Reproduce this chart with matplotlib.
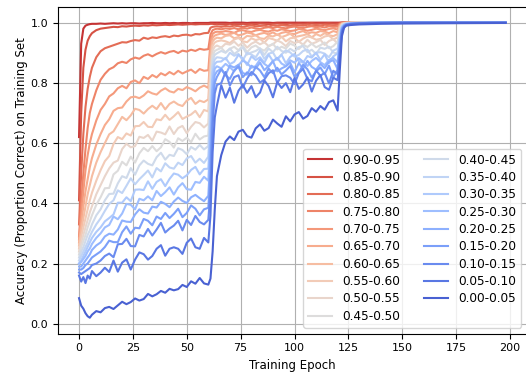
import numpy as np
import matplotlib
matplotlib.use("Agg")
import matplotlib.pyplot as plt

# epochs at which accuracy was logged
EPOCHS = ([0, 1, 2, 3, 4, 5, 6] + list(range(8, 59, 2)) + [60, 61, 62, 63, 64]
          + list(range(66, 121, 2))
          + [121, 122, 123, 124, 126, 130, 135, 140, 150, 170, 198])

BINS = ["0.00-0.05", "0.05-0.10", "0.10-0.15", "0.15-0.20", "0.20-0.25",
        "0.25-0.30", "0.30-0.35", "0.35-0.40", "0.40-0.45", "0.45-0.50",
        "0.50-0.55", "0.55-0.60", "0.60-0.65", "0.65-0.70", "0.70-0.75",
        "0.75-0.80", "0.80-0.85", "0.85-0.90", "0.90-0.95"]

# training accuracy per bin, in percent
acc_90_95 = [62, 93, 98, 99, 99.3, 99.5, 99.6, 99.6, 99.7, 99.6, 99.7, 99.8, 99.7, 99.8, 99.7, 99.8, 99.8, 99.7, 99.8, 99.8, 99.9, 99.8, 99.8, 99.9, 99.8, 99.9, 99.8, 99.9, 99.9, 99.8, 99.9, 99.9, 99.9,
             99.9, 100, 100, 100, 100,
             100, 100, 99.9, 100, 100, 100, 99.9, 100, 100, 100, 100, 100, 99.9, 100, 100, 100, 100, 100, 100, 100, 100, 100, 100, 100, 100, 100, 100, 100,
             100, 100, 100, 100, 100, 100, 100, 100, 100, 100, 100]
acc_85_90 = [41, 70, 85, 91, 94, 95.5, 96.5, 97.5, 98, 98.2, 98.4, 98.6, 98.5, 98.8, 98.7, 98.9, 99, 98.9, 99.1, 99, 99.2, 99.1, 99.2, 99.3, 99.2, 99.3, 99.4, 99.3, 99.4, 99.5, 99.4, 99.5, 99.5,
             99.5, 99.6, 99.6, 99.5, 99.6,
             99.4, 99.5, 99.6, 99.5, 99.4, 99.6, 99.5, 99.6, 99.5, 99.7, 99.6, 99.5, 99.6, 99.7, 99.6, 99.5, 99.7, 99.6, 99.7, 99.6, 99.7, 99.8, 99.6, 99.7, 99.7, 99.8, 99.7, 99.7,
             99.9, 100, 100, 100, 100, 100, 100, 100, 100, 100, 100]
acc_80_85 = [33, 50, 63, 72, 78, 82, 85, 88.5, 90.5, 91.5, 92, 92.5, 93, 93.5, 93.4, 93.9, 94.2, 94.0, 95, 94.6, 95.1, 94.9, 95.3, 95.5, 95.2, 95.7, 95.5, 95.9, 96, 95.7, 96.2, 96.1, 96.5,
             96.6, 98.3, 98.6, 98.7, 98.8,
             98.6, 98.9, 98.7, 99.0, 98.8, 98.6, 98.9, 99.1, 98.8, 98.9, 99.0, 98.7, 99.1, 98.9, 99.2, 99.0, 98.9, 99.2, 99.1, 99.0, 99.3, 99.1, 99.2, 99.0, 99.3, 99.2, 99.1, 99.3,
             99.7, 99.9, 100, 100, 100, 100, 100, 100, 100, 100, 100]
acc_75_80 = [29, 40, 50, 58, 65, 70, 73, 77.5, 81, 83, 84.5, 85.2, 86.5, 87, 86.6, 87.8, 88.4, 88, 89, 89.5, 88.8, 89.6, 90.2, 89.7, 90.3, 90.6, 89.9, 90.7, 90.4, 91, 90.6, 91.3, 91,
             91.2, 96, 97.5, 97.8, 98,
             97.8, 98.1, 97.9, 98.2, 97.8, 98.3, 98, 98.4, 98.1, 97.9, 98.3, 98.5, 98.2, 98.6, 98.3, 98.1, 98.5, 98.7, 98.4, 98.2, 98.6, 98.8, 98.5, 98.7, 98.4, 98.8, 98.6, 98.7,
             99.5, 99.9, 100, 100, 100, 100, 100, 100, 100, 100, 100]
acc_70_75 = [28, 36, 44, 51, 56, 60, 63, 67.5, 71, 73, 75.5, 76.5, 78.2, 79, 78.2, 80.3, 80.8, 79.9, 82, 81.3, 82.6, 81.8, 83.2, 82.5, 83.6, 82.8, 84, 83.1, 83.8, 84.4, 83.3, 84.6, 84,
             84.2, 93.5, 96.3, 96.8, 97,
             96.9, 97.2, 97.0, 96.6, 97.3, 97.5, 97.1, 96.9, 97.4, 97.6, 97.2, 97.0, 97.6, 97.3, 97.8, 97.5, 97.2, 97.4, 97.9, 97.7, 97.3, 97.6, 98.0, 97.8, 97.5, 97.9, 98.1, 97.7,
             99.3, 99.8, 99.9, 100, 100, 100, 100, 100, 100, 100, 100]
acc_65_70 = [27, 33, 39, 44, 48, 52, 55, 59.5, 63, 66, 67.9, 70.7, 71.6, 71.8, 73.8, 75.2, 75.4, 74.9, 75.8, 77.2, 76.5, 76.1, 77.4, 78.2, 77.2, 76.8, 78.0, 77.6, 78.6, 78.0, 77.2, 78.4, 79.1,
             78.3, 90.5, 95, 95.7, 96,
             96.4, 95.9, 96.2, 96.6, 95.8, 96.1, 96.7, 96.4, 95.8, 96.3, 96.6, 96.1, 96.8, 95.9, 96.6, 96.9, 96.4, 96.2, 96.8, 97.2, 96.4, 96.8, 96.6, 97.2, 97.0, 96.5, 97.2, 96.8,
             99, 99.7, 99.9, 99.9, 100, 100, 100, 100, 100, 100, 100]
acc_60_65 = [26, 31, 35, 39, 43, 46, 49, 53.5, 57, 60, 62.9, 63.9, 66.3, 68.7, 67.6, 69.2, 71.4, 71.0, 69.8, 71.3, 72.4, 71.3, 73.3, 71.2, 73.0, 73.8, 72.8, 72.3, 74.1, 75.0, 73.0, 74.1, 73.6,
             74.5, 88, 93.8, 94.6, 95,
             94.8, 95.6, 95.8, 94.8, 95.2, 94.5, 95.6, 95.4, 95.8, 94.8, 94.6, 95.7, 95.4, 96.1, 95.2, 95.7, 96.3, 95.2, 95.5, 95.8, 96.2, 95.1, 96.2, 95.6, 96.5, 95.8, 95.5, 96.2,
             98.7, 99.6, 99.8, 99.9, 100, 100, 100, 100, 100, 100, 100]
acc_55_60 = [25, 29, 32, 35, 38, 41, 43.5, 47.5, 51, 54, 55.7, 59.7, 62.0, 61.3, 63.2, 62.5, 65.6, 65.7, 67.0, 65.4, 65.3, 67.9, 67.6, 69.4, 67.7, 68.9, 70.3, 68.0, 68.8, 69.5, 70.7, 68.6, 71.0,
             70.5, 85, 92.3, 93.4, 93.8,
             94.1, 93.8, 93.2, 94.4, 94.9, 93.8, 93.5, 94.8, 94.2, 94.6, 93.4, 94.9, 94.5, 94.0, 95.3, 93.8, 94.8, 95.0, 93.6, 94.7, 95.4, 95.1, 94.3, 94.6, 95.4, 95.7, 94.4, 95.1,
             98.3, 99.5, 99.8, 99.9, 100, 100, 100, 100, 100, 100, 100]
acc_50_55 = [24, 27, 29.5, 32, 34.5, 37, 39, 43, 46, 49, 51.6, 53.5, 54.2, 58.0, 59.8, 58.6, 59.0, 62.1, 61.7, 62.7, 60.8, 63.8, 63.5, 62.9, 65.5, 63.0, 65.0, 65.7, 63.3, 65.4, 67.0, 66.6, 65.2,
             66.5, 82, 90.8, 92.0, 92.4,
             91.7, 93.0, 92.7, 93.7, 92.3, 93.4, 91.7, 93.0, 93.7, 92.8, 93.5, 92.2, 92.8, 94.1, 93.4, 92.2, 93.9, 93.2, 93.7, 92.7, 94.3, 93.0, 93.5, 94.3, 92.6, 93.9, 94.5, 93.1,
             97.8, 99.4, 99.7, 99.8, 99.9, 100, 100, 100, 100, 100, 100]
acc_45_50 = [23, 25.5, 27.5, 29.5, 32, 34, 36, 39.5, 42, 45, 45.1, 49.6, 50.8, 53.8, 52.6, 55.5, 53.5, 56.6, 58.4, 57.3, 59.0, 57.3, 58.6, 61.3, 60.4, 58.5, 61.6, 60.7, 61.8, 60.3, 63.1, 61.2, 62.2,
             62.5, 78, 89, 90.6, 91,
             91.6, 90.1, 91.3, 92.0, 90.8, 92.4, 90.2, 91.8, 92.4, 91.3, 90.7, 92.2, 93.0, 91.1, 92.0, 91.4, 93.0, 92.4, 91.2, 92.7, 91.9, 93.0, 91.8, 92.5, 93.4, 91.5, 92.2, 93.7,
             97.2, 99.2, 99.6, 99.8, 99.9, 100, 100, 100, 100, 100, 100]
acc_40_45 = [22, 24, 25.5, 27.5, 29.5, 31, 33, 36, 38, 41, 43.1, 43.2, 46.6, 49.0, 48.4, 51.7, 49.5, 52.6, 54.2, 53.1, 52.6, 55.3, 56.8, 54.5, 56.1, 55.7, 58.3, 57.7, 56.3, 58.7, 57.8, 59.4, 57.9,
             59, 75, 87.5, 89.3, 89.8,
             90.6, 90.0, 91.4, 89.6, 90.6, 91.8, 89.4, 90.1, 90.6, 91.5, 89.3, 91.4, 90.2, 92.0, 90.6, 90.0, 91.3, 90.4, 91.9, 92.2, 90.2, 91.0, 89.6, 91.7, 91.3, 92.0, 90.1, 89.7,
             96.5, 99.0, 99.5, 99.7, 99.9, 100, 100, 100, 100, 100, 100]
acc_35_40 = [21, 22.5, 24, 25.5, 27, 29, 30.5, 33, 35, 37.5, 39.8, 41.0, 44.3, 43.4, 45.8, 48.3, 46.3, 48.0, 49.4, 50.9, 48.6, 51.7, 50.6, 53.3, 51.9, 51.5, 53.5, 52.7, 54.9, 55.7, 53.5, 54.8, 53.4,
             55.5, 71, 85.5, 87.8, 88.5,
             88.3, 87.8, 90.0, 89.0, 89.6, 87.5, 90.0, 89.4, 88.5, 90.7, 88.0, 89.7, 90.1, 87.6, 89.5, 90.8, 90.1, 88.7, 89.3, 90.6, 91.1, 88.7, 90.0, 90.2, 89.7, 88.5, 90.7, 91.4,
             95.8, 98.8, 99.4, 99.6, 99.8, 99.9, 100, 100, 100, 100, 100]
acc_30_35 = [20, 21, 22.5, 24, 25.5, 27, 28.5, 30.5, 32, 34, 35.1, 36.3, 40.2, 40.2, 42.0, 40.7, 44.5, 44.6, 44.4, 47.3, 44.8, 47.1, 48.0, 45.7, 48.1, 49.9, 49.5, 48.3, 49.3, 51.1, 52.1, 49.6, 51.4,
             51.5, 67, 83.5, 86.3, 87.0,
             87.1, 88.3, 86.2, 87.0, 89.3, 88.1, 85.9, 88.8, 87.6, 88.5, 86.7, 89.4, 87.2, 88.0, 89.3, 86.5, 88.6, 89.6, 87.2, 86.7, 88.9, 88.4, 90.0, 87.6, 89.5, 86.5, 88.8, 89.8,
             95.0, 98.6, 99.3, 99.6, 99.8, 99.9, 100, 100, 100, 100, 100]
acc_25_30 = [20, 20.5, 21.5, 22.5, 24, 25, 26.5, 28.5, 30, 32, 32.8, 35.6, 34.7, 36.6, 39.8, 39.5, 38.0, 41.5, 41.0, 42.3, 41.0, 44.1, 42.4, 43.7, 45.3, 42.9, 45.3, 46.7, 44.7, 44.5, 47.1, 46.8, 48.8,
             47.5, 62, 81, 84.7, 85.5,
             84.8, 86.3, 85.2, 83.8, 85.9, 87.4, 86.6, 85.0, 85.6, 87.8, 86.3, 85.3, 87.2, 88.3, 86.4, 85.6, 87.5, 86.7, 88.2, 87.0, 85.6, 87.3, 88.3, 86.9, 85.9, 87.6, 88.3, 86.8,
             94.2, 98.4, 99.2, 99.5, 99.7, 99.9, 100, 100, 100, 100, 100]
acc_20_25 = [19, 19, 20, 21, 22, 23, 24.5, 26, 27, 29, 29.9, 29.6, 31.3, 34.3, 33.9, 33.8, 36.3, 38.0, 36.9, 36.6, 38.9, 38.6, 40.5, 39.8, 38.7, 40.6, 41.9, 40.8, 40.1, 42.0, 42.8, 41.7, 40.7,
             42.5, 56, 77.5, 82.6, 83.8,
             84.7, 82.7, 85.7, 85.1, 86.0, 83.3, 82.7, 85.7, 84.8, 86.7, 84.2, 85.6, 87.2, 83.8, 84.8, 85.5, 86.7, 83.5, 86.6, 84.7, 87.3, 85.3, 84.4, 86.3, 84.9, 87.0, 87.5, 84.6,
             93.3, 98.1, 99.1, 99.5, 99.7, 99.8, 99.9, 100, 100, 100, 100]
acc_15_20 = [18, 18, 18.5, 19.5, 20, 21, 22, 23, 24, 25.5, 27.6, 27.1, 27.1, 30.4, 32.3, 29.9, 31.9, 31.7, 34.8, 34.2, 32.7, 35.6, 34.8, 36.8, 35.1, 36.5, 38.2, 35.4, 36.8, 39.3, 38.2, 36.0, 38.0,
             38.5, 50, 73, 80.1, 82,
             84.5, 82.5, 81.3, 84.1, 85.4, 81.9, 83.5, 82.5, 85.3, 84.1, 81.9, 84.7, 83.2, 85.0, 82.8, 84.1, 85.6, 82.1, 83.4, 86.0, 84.5, 81.8, 83.8, 85.1, 82.9, 85.7, 81.7, 84.5,
             92.0, 97.8, 99.0, 99.4, 99.6, 99.8, 99.9, 100, 100, 100, 100]
acc_10_15 = [17, 16.5, 17, 17.5, 18, 18.5, 19.5, 20, 21, 22.5, 23.3, 22.1, 26.4, 26.5, 28.2, 25.8, 25.7, 29.5, 29.0, 31.5, 29.3, 31.3, 33.5, 30.3, 31.6, 32.6, 34.2, 31.0, 34.5, 32.8, 35.8, 33.8, 33.0,
             34.5, 44, 66, 76.5, 79.3,
             79.9, 83.6, 79.1, 81.9, 82.5, 78.4, 81.4, 83.6, 82.4, 80.1, 81.1, 83.2, 84.2, 80.0, 82.2, 82.5, 81.7, 79.6, 83.3, 84.6, 81.3, 80.5, 84.1, 82.4, 83.3, 79.8, 84.0, 82.9,
             90.5, 97.4, 98.8, 99.3, 99.6, 99.8, 99.9, 99.9, 100, 100, 100]
acc_05_10 = [16, 14, 15.5, 13.5, 16, 15, 17.5, 15.8, 17, 18.6, 17.2, 21.0, 17.3, 20.3, 21.4, 18.0, 21.3, 23.7, 23.1, 21.3, 22.5, 24.9, 26.1, 22.6, 24.9, 25.4, 24.9, 23.2, 26.9, 28.3, 25.4, 24.9, 28.5,
             27, 36, 57, 68.5, 72.5,
             79.2, 75.1, 78.4, 73.4, 77.4, 79.3, 76.7, 78.9, 75.2, 76.8, 80.8, 78.9, 75.2, 80.3, 78.3, 79.9, 76.9, 81.6, 78.0, 79.5, 81.8, 77.1, 80.7, 82.6, 78.6, 77.7, 81.7, 80.9,
             88.5, 96.8, 98.6, 99.2, 99.5, 99.7, 99.8, 99.9, 100, 100, 100]
acc_00_05 = [8.5, 6, 5, 3.5, 2.5, 2, 3, 4.2, 3.8, 5.2, 5.6, 4.9, 6.1, 7.3, 6.5, 7.2, 8.4, 7.7, 8.2, 9.9, 9.1, 9.8, 10.9, 10.3, 11.6, 11.1, 11.5, 12.9, 12.2, 14.1, 13.3, 15.2, 13.4,
             13, 15, 24, 38, 49,
             56, 60.5, 62.2, 61.0, 63.8, 64.4, 62.3, 61.8, 64.9, 66.2, 64.1, 65.0, 67.8, 66.5, 65.4, 68.9, 67.2, 69.5, 70.3, 68.1, 69.0, 71.6, 70.4, 72.3, 71.1, 73.6, 74.2, 70.8,
             84, 95.5, 98.3, 99.0, 99.2, 99.4, 99.5, 99.6, 99.7, 99.8, 99.9]

SERIES = [acc_00_05, acc_05_10, acc_10_15, acc_15_20, acc_20_25, acc_25_30,
          acc_30_35, acc_35_40, acc_40_45, acc_45_50, acc_50_55, acc_55_60,
          acc_60_65, acc_65_70, acc_70_75, acc_75_80, acc_80_85, acc_85_90,
          acc_90_95]

# coolwarm, skipping the two extreme ends of the map
colors = plt.get_cmap("coolwarm")(np.linspace(0, 1, len(BINS) + 2)[1:-1])

fig = plt.figure(figsize=(5.26, 3.73), dpi=100)
ax = fig.add_axes([0.1097, 0.1054, 0.8922, 0.8759])

# highest bins first so they head the legend
for label, acc, color in reversed(list(zip(BINS, SERIES, colors))):
    assert len(acc) == len(EPOCHS), label
    ax.plot(EPOCHS, np.array(acc) / 100.0, color=color, lw=1.5, label=label)

ax.set_ylim(-0.033, 1.052)
ax.set_xticks([0, 25, 50, 75, 100, 125, 150, 175, 200])
ax.set_yticks([0.0, 0.2, 0.4, 0.6, 0.8, 1.0])
ax.tick_params(labelsize=8)
ax.grid(True)
ax.set_xlabel("Training Epoch", fontsize=8.5)
ax.set_ylabel("Accuracy (Proportion Correct) on Training Set", fontsize=8.5, labelpad=1.5)
ax.legend(ncol=2, loc="lower right", fontsize=8.7, labelspacing=0.36)

fig.savefig("out.png", dpi=100)
